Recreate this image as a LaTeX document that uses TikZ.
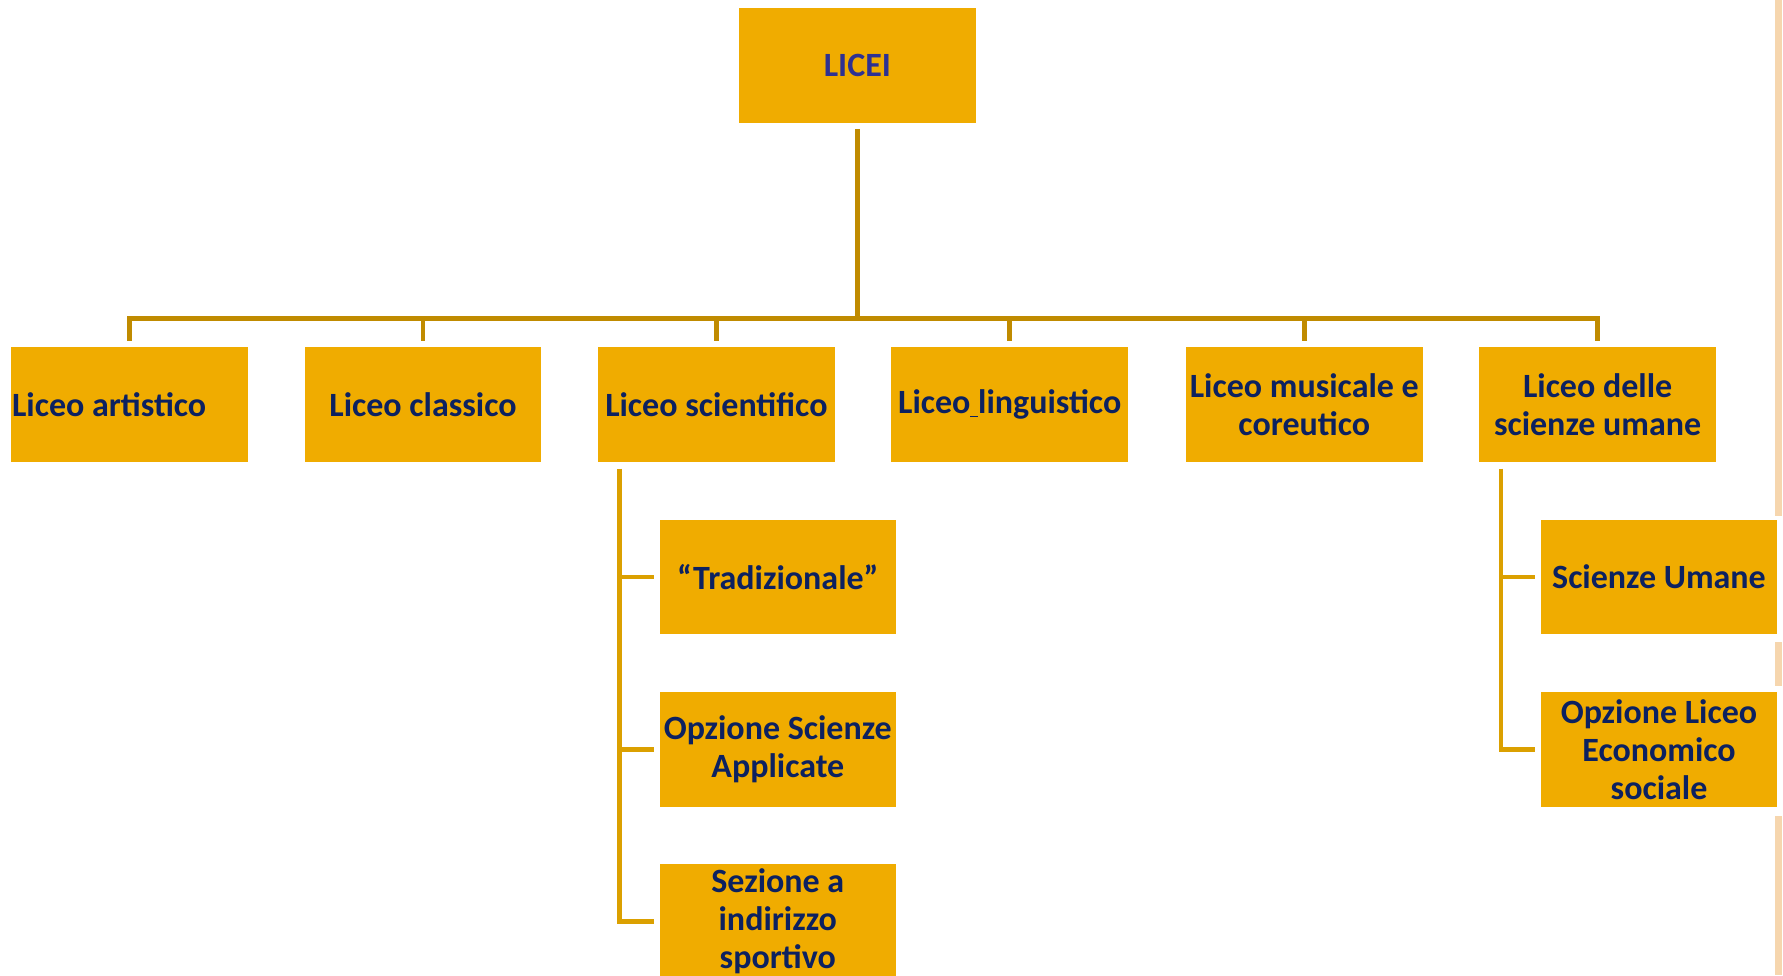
\documentclass[tikz,border=0pt]{standalone}
\usepackage{fontspec}
\setmainfont{Carlito}
\definecolor{boxfill}{HTML}{F0AC00}
\definecolor{mainline}{HTML}{C08B00}
\definecolor{subline}{HTML}{DBA000}
\definecolor{txt}{HTML}{0C2160}
\definecolor{toptxt}{HTML}{2E3192}
\definecolor{peach}{HTML}{F6D6AE}
\begin{document}
\begin{tikzpicture}[x=0.5pt,y=-0.5pt,
  box/.style={fill=boxfill, draw=none, minimum width=118.25pt, minimum height=57.45pt,
    inner sep=0pt, text=txt, font=\fontsize{17}{19}\selectfont\bfseries, align=center},
  lbl/.style={inner sep=0pt, text=txt, font=\fontsize{17}{19}\selectfont\bfseries, align=center},
  mainconn/.style={draw=mainline, line width=2.3pt},
  subconn/.style={draw=subline, line width=2.3pt}]
\useasboundingbox (0,0) rectangle (1783,975);
% right decorative bar
\fill[peach] (1775,0) rectangle (1782,516);
\fill[peach] (1775,642) rectangle (1782,686);
\fill[peach] (1775,816) rectangle (1782,975);
% top
\node[box, text=toptxt] (licei) at (857.4,65.5) {LICEI};
% row of licei
\node[box] (art) at (129.6,404.2) {};
\node[lbl] (artlbl) at (109.2,404.2) {Liceo artistico};
\node[box] (cla) at (423,404.2) {Liceo classico};
\node[box] (sci) at (716.4,404.2) {Liceo scientifico};
\node[box] (lin) at (1009.7,404.2) {Liceo\underline{\ }linguistico};
\node[box] (mus) at (1304.3,404.2) {Liceo musicale e\\coreutico};
\node[box] (sum) at (1597.6,404.2) {Liceo delle\\scienze umane};
% sub boxes scientifico
\node[box] (tra) at (777.8,577) {“Tradizionale”};
\node[box] (osa) at (777.8,749.4) {Opzione Scienze\\Applicate};
\node[box] (sez) at (777.8,921.6) {Sezione a\\indirizzo\\sportivo};
% sub boxes scienze umane
\node[box] (su) at (1659,577) {Scienze Umane};
\node[box] (oles) at (1659,749.4) {Opzione Liceo\\Economico\\sociale};
% main connectors
\coordinate (bus) at (857.4,318.4);
\draw[mainconn] (licei.south) ++(0,5.5) -- (bus);
\foreach \n in {art,cla,sci,lin,mus,sum}{
  \draw[mainconn] (\n.north) ++(0,-5.8) |- (bus);
}
% sub connectors scientifico
\coordinate (scitop) at (619.7,468.5);
\draw[subconn] (scitop) |- ([xshift=-2.75pt]sez.west);
\draw[subconn] (scitop |- tra.west) -- ([xshift=-2.75pt]tra.west);
\draw[subconn] (scitop |- osa.west) -- ([xshift=-2.75pt]osa.west);
% sub connectors scienze umane
\coordinate (sumtop) at (1501,468.5);
\draw[subconn] (sumtop) |- ([xshift=-2.75pt]oles.west);
\draw[subconn] (sumtop |- su.west) -- ([xshift=-2.75pt]su.west);
\end{tikzpicture}
\end{document}
